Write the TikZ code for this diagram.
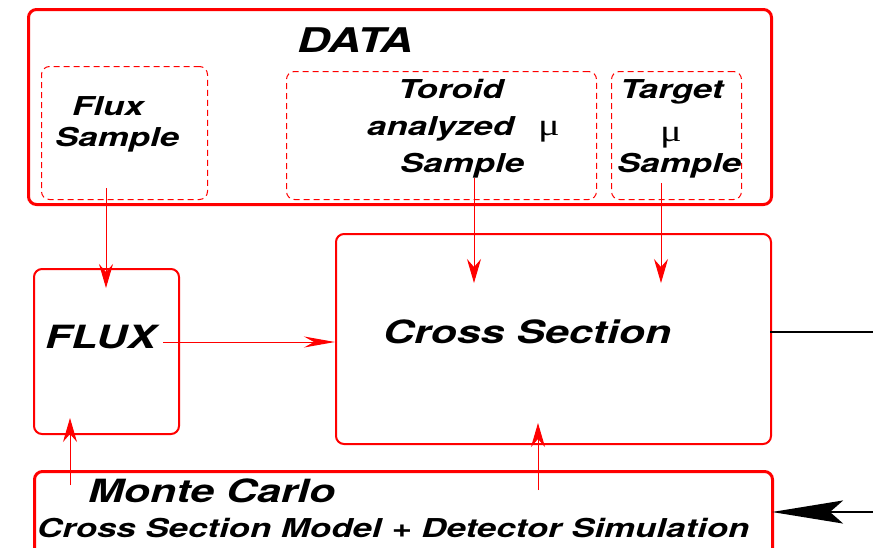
\documentclass[tikz,border=0pt]{standalone}
\usepackage{fontspec}
\setmainfont{TeX Gyre Heros}[FakeStretch=1.34]
\newfontfamily\mufont{Liberation Serif}[FakeStretch=1.3]
\usetikzlibrary{arrows.meta,calc}

\tikzset{
  solidbox/.style={draw=red, rounded corners=8pt, inner sep=0pt, anchor=north west},
  dashbox/.style={draw=red, line width=1pt, dash pattern=on 6pt off 4pt,
    rounded corners=8pt, inner sep=0pt, anchor=north west},
  big/.style={font=\fontsize{32}{36}\selectfont\bfseries\itshape},
  small/.style={font=\fontsize{26}{30}\selectfont\bfseries\itshape},
  mutext/.style={font=\fontsize{31}{34}\selectfont\mufont},
  lbl/.style={inner sep=0pt, anchor=base west},
  vflow/.style={draw=red, line width=1pt,
    -{Stealth[length=24pt,width=14pt,inset=8pt]}},
  hflow/.style={draw=red, line width=1pt,
    -{Stealth[length=31pt,width=11pt,inset=10pt]}},
  feed/.style={draw=black, line width=2.5pt},
  feedin/.style={feed, -{Stealth[length=71pt,width=23pt,inset=13pt]}}
}

\begin{document}
\begin{tikzpicture}[x=1pt,y=-1pt]
\useasboundingbox (0,0) rectangle (873,547);
\clip (0,0) rectangle (873,547);

% frames
\node[solidbox, line width=3pt, minimum width=743pt, minimum height=195pt] (data) at (27,8) {};
\node[dashbox, minimum width=166pt, minimum height=133pt] (fs) at (41,66) {};
\node[dashbox, minimum width=310pt, minimum height=128pt] (ts) at (286,71) {};
\node[dashbox, minimum width=130pt, minimum height=128pt] (tg) at (611,71) {};
\node[solidbox, line width=2pt, minimum width=145pt, minimum height=165pt] (flux) at (33,268) {};
\node[solidbox, line width=2pt, minimum width=435pt, minimum height=210pt] (cs) at (335,233) {};
\node[solidbox, line width=3pt, minimum width=738pt, minimum height=120pt] (mc) at (33,470) {};

% texts
\node[lbl, big, font=\fontsize{34}{36}\selectfont\bfseries\itshape] (tdata) at (297,52) {DATA};
\node[lbl, small] (tflux1) at (72,115) {Flux};
\node[lbl, small] (tflux2) at (55,146) {Sample};
\node[lbl, small] (tts1) at (398,98) {Toroid};
\node[lbl, small] (tts2) at (367,135) {analyzed};
\node[lbl, mutext] (tts3) at (538,135) {μ};
\node[lbl, small] (tts4) at (400,172) {Sample};
\node[lbl, small] (ttg1) at (620,98) {Target};
\node[lbl, mutext] (ttg2) at (660,141) {μ};
\node[lbl, small] (ttg3) at (617,172) {Sample};
\node[lbl, big] (tfluxbox) at (45,348) {FLUX};
\node[lbl, big] (tcs) at (383,343) {Cross Section};
\node[lbl, big] (tmc1) at (88,502) {Monte Carlo};
\node[lbl, small] (tmc2) at (37,537) {Cross Section Model + Detector Simulation};

% connector end points
\coordinate (fsout) at (106,188);
\coordinate (fluxin) at (106,288);
\coordinate (tsout) at (474,178);
\coordinate (csin1) at (474,283);
\coordinate (tgout) at (661,183);
\coordinate (csin2) at (661,283);
\coordinate (fluxout) at (163,342);
\coordinate (mcout1) at (70,485);
\coordinate (fluxin2) at (70,418);
\coordinate (mcout2) at (538,490);
\coordinate (csin3) at (538,423);
\coordinate (csout) at (770,332);
\coordinate (outr) at (873,332);
\coordinate (inr) at (873,512);
\coordinate (mcin) at (772,512);

% data flow
\draw[vflow] (fsout) -- (fluxin);
\draw[vflow] (tsout) -- (csin1);
\draw[vflow] (tgout) -- (csin2);
\draw[hflow] (fluxout) -- (fluxout -| cs.west);
\draw[vflow] (mcout1) -- (fluxin2);
\draw[vflow] (mcout2) -- (csin3);

% external links
\draw[feed] (csout) -- (outr);
\draw[feedin] (inr) -- (mcin);
\end{tikzpicture}
\end{document}
